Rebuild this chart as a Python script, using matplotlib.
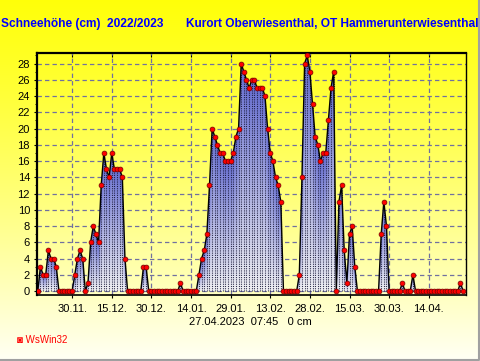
import numpy as np
import pandas as pd
import matplotlib
matplotlib.use("Agg")
import matplotlib.pyplot as plt
import matplotlib.dates as mdates

# daily snow depth (cm), 17.11.2022 .. 27.04.2023
start = "2022-11-17"
snow = [0, 3, 2, 2, 5, 4, 4, 3,
        0, 0, 0, 0, 0, 0,
        2, 4, 5, 4, 0, 1, 6, 8, 7, 6,
        13, 17, 15, 14, 17, 15, 15, 15, 14, 4,
        0, 0, 0, 0, 0, 0,
        3, 3,
        0, 0, 0, 0, 0, 0, 0, 0, 0, 0, 0, 0,
        1,
        0, 0, 0, 0, 0, 0,
        2, 4, 5, 7, 13, 20, 19, 18, 17, 17,
        16, 16, 16, 17, 19, 20,
        28, 27, 26, 25, 26, 26, 25, 25, 25, 24,
        20, 17, 16, 14, 13, 11,
        0, 0, 0, 0, 0, 0,
        2, 14, 28, 29, 27, 23, 19, 18, 16, 17, 17, 21, 25, 27,
        0, 11, 13, 5, 1, 7, 8, 3,
        0, 0, 0, 0, 0, 0, 0, 0, 0,
        7, 11, 8,
        0, 0, 0, 0, 0,
        1,
        0, 0, 0,
        2,
        0, 0, 0, 0, 0, 0, 0, 0, 0, 0, 0, 0, 0, 0, 0, 0, 0,
        1, 0]
tick_dates = ["2022-11-30", "2022-12-15", "2022-12-30", "2023-01-14", "2023-01-29",
              "2023-02-13", "2023-02-28", "2023-03-15", "2023-03-30", "2023-04-14"]
title_left = "Schneehöhe (cm)  2022/2023"
title_right = "Kurort Oberwiesenthal, OT Hammerunterwiesenthal"
footer = "27.04.2023  07:45   0 cm"

days = pd.date_range(start, periods=len(snow), freq="D")
x = mdates.date2num(days.to_pydatetime())
y = np.array(snow, dtype=float)

W, H = 481, 361
fig = plt.figure(figsize=(W / 100, H / 100), dpi=100)

# yellow -> pale background
bg = fig.add_axes([0, 0, 1, 1])
bg.set_axis_off()
b = np.linspace(0.08, 0.97, H) ** 1.3
grad = np.ones((H, 1, 3))
grad[:, 0, 2] = b
bg.imshow(grad, extent=[0, W, H, 0], aspect="auto")
bg.plot([0, 479.5, 479.5], [359.5, 359.5, 0], color="#a0a0a0", lw=1.5)
bg.set_xlim(0, W)
bg.set_ylim(H, 0)

ax = fig.add_axes([37 / W, (H - 294.5) / H, (466 - 37) / W, (294.5 - 53) / H])
ax.patch.set_alpha(0)
x0, x1 = x[0] - 0.3, x[0] + 162.1
y0, y1 = -0.43, 29.3
ax.set_xlim(x0, x1)
ax.set_ylim(y0, y1)

# per column gradient fill
xc = np.linspace(x0, x1, 1300)
yr = np.linspace(0, y1, 500)
hc = np.interp(xc, x, y, left=0, right=0)
t = yr[:, None] / np.where(hc > 0, hc, 1)[None, :]
top = np.array([0.40, 0.43, 0.82])
bot = np.array([0.95, 0.95, 0.96])
img = np.zeros((len(yr), len(xc), 4))
for k in range(3):
    img[..., k] = bot[k] + (top[k] - bot[k]) * np.clip(t, 0, 1)
img[..., 3] = ((t <= 1) & (hc[None, :] > 0)).astype(float)
ax.imshow(img, extent=[x0, x1, 0, y1], origin="lower", aspect="auto",
          interpolation="nearest", zorder=1)

ax.vlines(x, 0, y, colors="#101030", lw=0.8, linestyles=(0, (1, 1)), alpha=0.85, zorder=2)
ax.plot(x, y, color="black", lw=1, zorder=3)
ax.plot(x, y, "o", ms=3.5, mfc="red", mec="#700000", mew=0.5, zorder=4)

ax.set_yticks(np.arange(0, 29, 2))
ax.set_yticks(np.arange(0, 30, 1), minor=True)
ax.set_xticks(mdates.date2num(pd.to_datetime(tick_dates).to_pydatetime()))
ax.xaxis.set_major_formatter(mdates.DateFormatter("%d.%m."))
ax.set_axisbelow(True)
ax.grid(True, color="#7070a0", lw=0.9, linestyle=(0, (3.5, 2.5)))
ax.tick_params(labelsize=8, length=2.5, width=0.8, pad=2.5)
ax.tick_params(axis="x", pad=4)
ax.tick_params(which="minor", length=1.5, width=0.6)
for lab in ax.get_xticklabels() + ax.get_yticklabels():
    lab.set_family("Liberation Sans")

sec = ax.secondary_xaxis("top")
sec.set_xticks(ax.get_xticks())
sec.tick_params(direction="in", length=3, width=0.8, labeltop=False)
sec.spines["top"].set_visible(False)

for side, lw in (("left", 1.6), ("top", 1.6), ("right", 1.0), ("bottom", 1.2)):
    ax.spines[side].set_linewidth(lw)

blue = "#0000ff"
fig.text(1 / W, 1 - 24 / H, title_left, color=blue, fontsize=8.6, fontweight="bold",
         family="Liberation Sans", va="center", ha="left")
fig.text(186 / W, 1 - 24 / H, title_right, color=blue, fontsize=8.6, fontweight="bold",
         family="Liberation Sans", va="center", ha="left")
fig.text(250 / W, 1 - 322 / H, footer, color="black", fontsize=8,
         family="Liberation Sans", va="center", ha="center")
fig.text(17 / W, 1 - 340 / H, "◙ WsWin32", color="red", fontsize=7,
         family=["Liberation Sans", "DejaVu Sans"], va="center", ha="left")

fig.savefig("out.png", dpi=100)
